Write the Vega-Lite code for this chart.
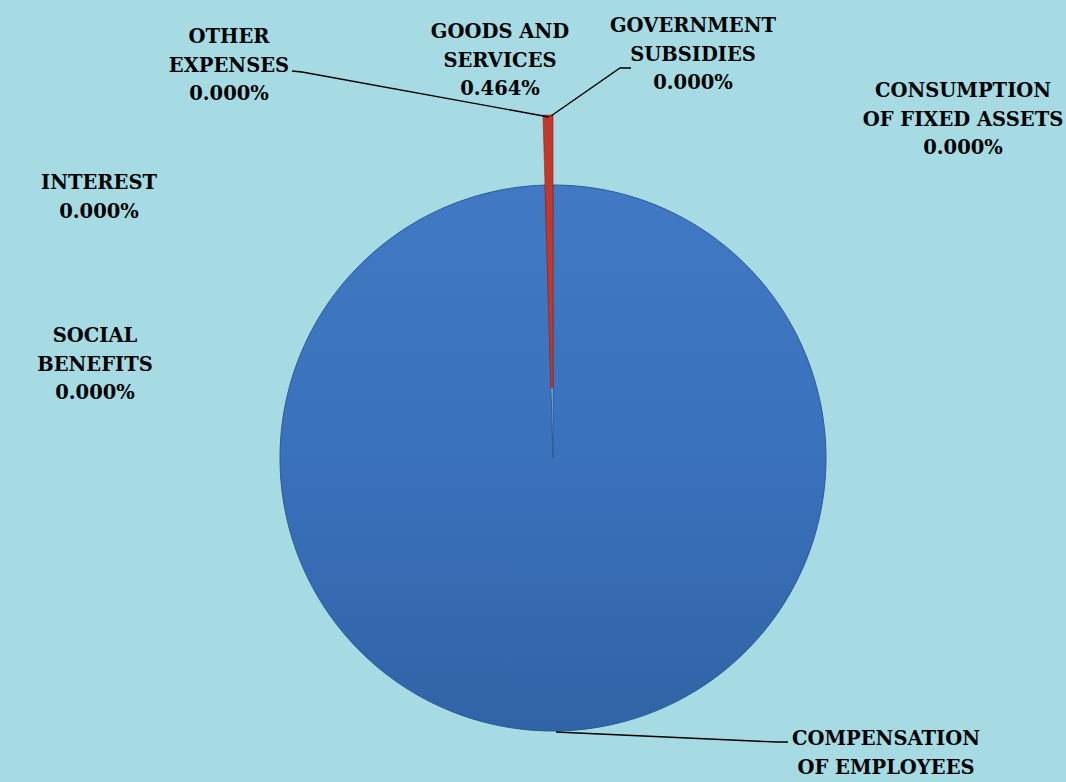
{
  "$schema": "https://vega.github.io/schema/vega-lite/v6.json",
  "width": 1026,
  "height": 648,
  "autosize": {"type": "none"},
  "padding": {"left": 40, "top": 134, "right": 0, "bottom": 0},
  "background": "#a6dbe3",
  "config": {"view": {"stroke": null}},
  "datasets": {
    "shares": [
      {"category": "COMPENSATION OF EMPLOYEES", "share": 99.536, "idx": 1},
      {"category": "GOODS AND SERVICES", "share": 0.464, "idx": 2},
      {"category": "CONSUMPTION OF FIXED ASSETS", "share": 0, "idx": 3},
      {"category": "INTEREST", "share": 0, "idx": 4},
      {"category": "GOVERNMENT SUBSIDIES", "share": 0, "idx": 5},
      {"category": "SOCIAL BENEFITS", "share": 0, "idx": 6},
      {"category": "OTHER EXPENSES", "share": 0, "idx": 7}
    ],
    "labels": [
      {"label": "OTHER\nEXPENSES\n0.000%", "lx": 229, "ly": 37},
      {"label": "GOODS AND\nSERVICES\n0.464%", "lx": 500, "ly": 32},
      {"label": "GOVERNMENT\nSUBSIDIES\n0.000%", "lx": 693, "ly": 26},
      {"label": "CONSUMPTION\nOF FIXED ASSETS\n0.000%", "lx": 963, "ly": 91},
      {"label": "INTEREST\n0.000%", "lx": 99, "ly": 183},
      {"label": "SOCIAL\nBENEFITS\n0.000%", "lx": 95, "ly": 336},
      {"label": "COMPENSATION\nOF EMPLOYEES", "lx": 886, "ly": 739}
    ],
    "leaders": [
      {"id": "other", "seq": 1, "lx": 292, "ly": 71},
      {"id": "other", "seq": 2, "lx": 302, "ly": 72},
      {"id": "other", "seq": 3, "lx": 549, "ly": 117},
      {"id": "subsidies", "seq": 1, "lx": 551, "ly": 116},
      {"id": "subsidies", "seq": 2, "lx": 620, "ly": 68},
      {"id": "subsidies", "seq": 3, "lx": 631, "ly": 68},
      {"id": "comp", "seq": 1, "lx": 556, "ly": 732},
      {"id": "comp", "seq": 2, "lx": 776, "ly": 742},
      {"id": "comp", "seq": 3, "lx": 788, "ly": 742}
    ]
  },
  "layer": [
    {
      "data": {"name": "shares"},
      "mark": {
        "type": "arc",
        "outerRadius": 273,
        "stroke": "#2b5b98",
        "strokeWidth": 1,
        "fill": {
          "gradient": "linear",
          "x1": 0, "y1": 0, "x2": 0, "y2": 1,
          "stops": [
            {"offset": 0, "color": "#4279c4"},
            {"offset": 0.5, "color": "#3a71bb"},
            {"offset": 1, "color": "#3064a6"}
          ]
        }
      },
      "encoding": {
        "theta": {"field": "share", "type": "quantitative", "stack": true},
        "order": {"field": "idx", "type": "quantitative"},
        "opacity": {
          "condition": {"test": "datum.category === 'COMPENSATION OF EMPLOYEES'", "value": 1},
          "value": 0
        }
      }
    },
    {
      "data": {"name": "shares"},
      "mark": {
        "type": "arc",
        "outerRadius": 343,
        "innerRadius": 70,
        "fill": "#c0392b",
        "stroke": "#8e2318",
        "strokeWidth": 0.6
      },
      "encoding": {
        "theta": {"field": "share", "type": "quantitative", "stack": true},
        "order": {"field": "idx", "type": "quantitative"},
        "opacity": {
          "condition": {"test": "datum.category === 'GOODS AND SERVICES'", "value": 1},
          "value": 0
        }
      }
    },
    {
      "data": {"name": "leaders"},
      "mark": {"type": "line", "color": "#000000", "strokeWidth": 1.4},
      "encoding": {
        "x": {"field": "lx", "type": "quantitative", "scale": {"domain": [40, 1066], "zero": false, "nice": false}, "axis": null},
        "y": {"field": "ly", "type": "quantitative", "scale": {"domain": [134, 782], "zero": false, "nice": false, "reverse": true}, "axis": null},
        "detail": {"field": "id", "type": "nominal"},
        "order": {"field": "seq", "type": "quantitative"}
      }
    },
    {
      "data": {"name": "labels"},
      "mark": {
        "type": "text",
        "font": "DejaVu Serif",
        "fontWeight": "bold",
        "fontSize": 19.5,
        "lineHeight": 28.5,
        "lineBreak": "\n",
        "align": "center",
        "baseline": "middle",
        "color": "#000000"
      },
      "encoding": {
        "x": {"field": "lx", "type": "quantitative"},
        "y": {"field": "ly", "type": "quantitative"},
        "text": {"field": "label", "type": "nominal"}
      }
    }
  ]
}
